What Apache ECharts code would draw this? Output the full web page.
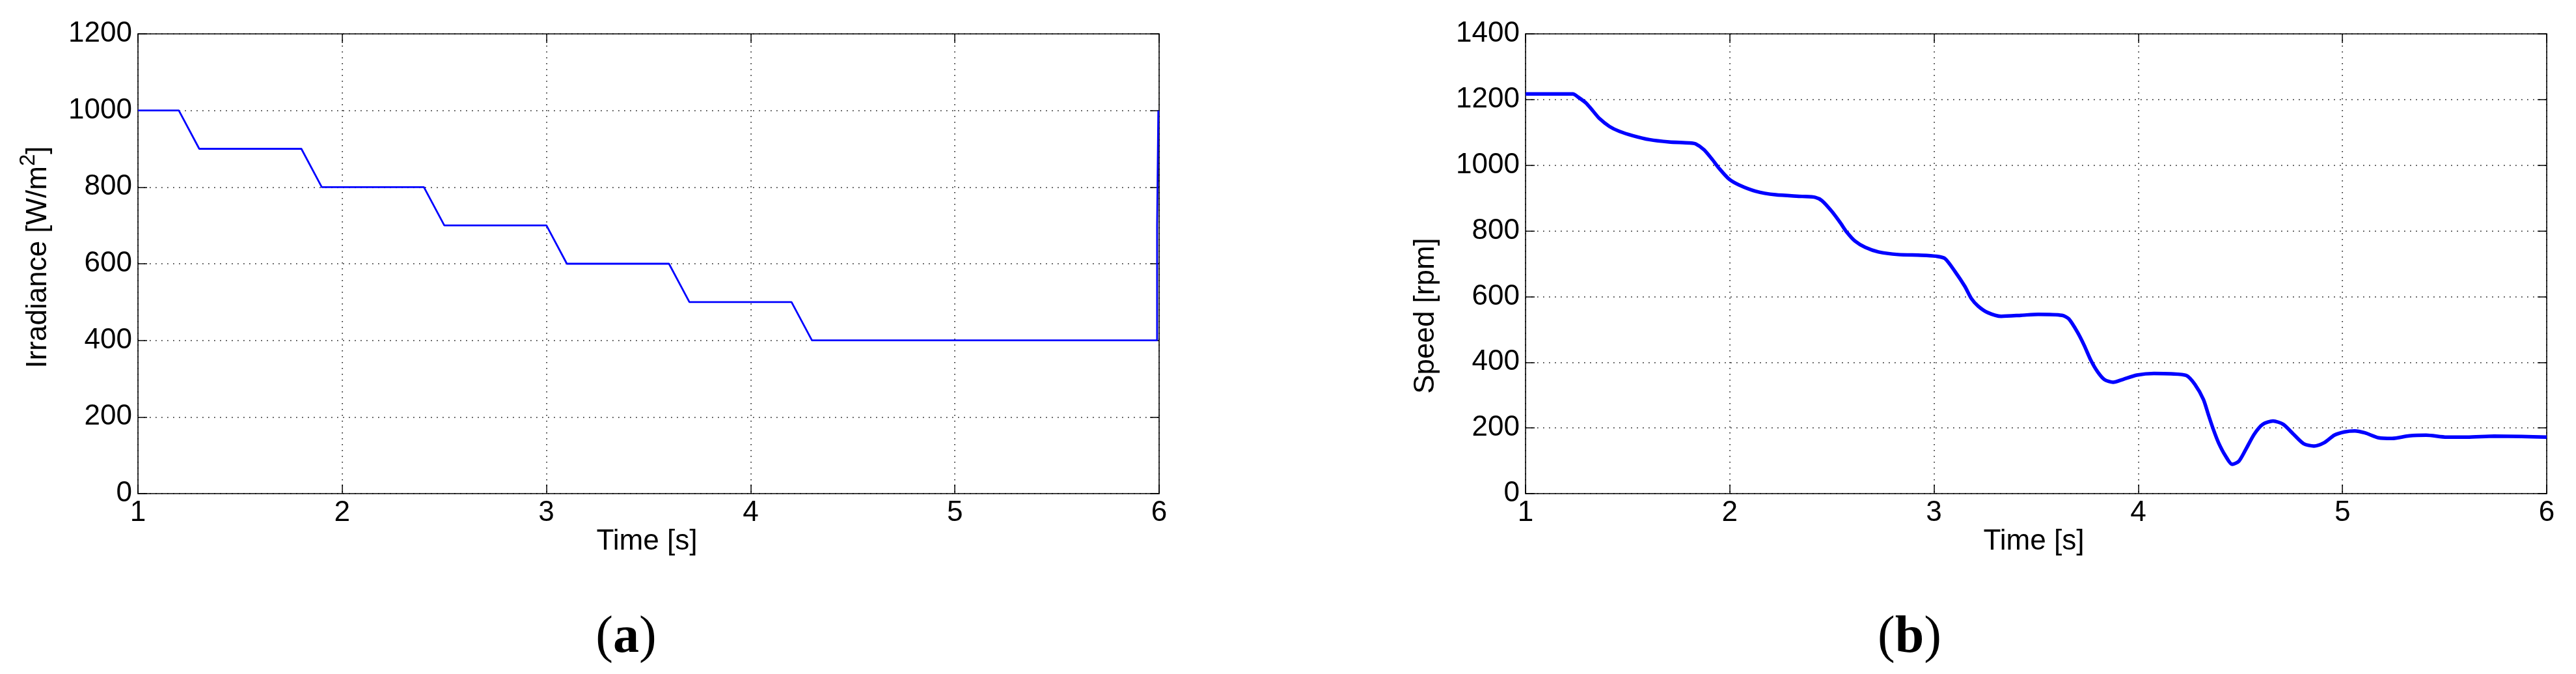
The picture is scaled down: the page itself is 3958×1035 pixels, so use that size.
<!DOCTYPE html>
<html><head><meta charset="utf-8">
<script src="https://cdn.jsdelivr.net/npm/echarts@6/dist/echarts.min.js"></script>
<style>html,body{margin:0;padding:0;background:#fff}#c{width:3958px;height:1035px}</style>
</head><body><div id="c"></div>
<script>
// ---- data ----
const irrTime  = [1, 1.2, 1.3, 1.8, 1.9, 2.4, 2.5, 3.0, 3.1, 3.6, 3.7, 4.2, 4.3, 5.99, 5.99, 5.996, 5.996];
const irrValue = [1000, 1000, 900, 900, 800, 800, 700, 700, 600, 600, 500, 500, 400, 400, 700, 700, 1000];

const speedTime  = [1.0, 1.232, 1.256, 1.297, 1.329, 1.362, 1.411, 1.46, 1.525, 1.606, 1.703, 1.801, 1.833,
  1.874, 1.915, 1.947, 1.996, 2.045, 2.126, 2.224, 2.354, 2.419, 2.451, 2.5, 2.541, 2.573, 2.613, 2.663,
  2.728, 2.825, 2.938, 3.01, 3.053, 3.102, 3.151, 3.183, 3.216, 3.264, 3.329, 3.427, 3.51, 3.627, 3.66,
  3.702, 3.735, 3.768, 3.802, 3.835, 3.877, 3.926, 3.993, 4.077, 4.16, 4.235, 4.277, 4.319, 4.343, 4.368,
  4.393, 4.427, 4.46, 4.493, 4.527, 4.568, 4.61, 4.66, 4.71, 4.76, 4.81, 4.86, 4.91, 4.96, 5.01, 5.06,
  5.11, 5.177, 5.243, 5.327, 5.41, 5.51, 5.61, 5.743, 5.877, 6.0];
const speedValue = [1217, 1217, 1208, 1189, 1166, 1142, 1118, 1103, 1090, 1078, 1071, 1068, 1065,
  1047, 1017, 991, 958, 940, 921, 910, 905, 902, 892, 859, 825, 796, 769, 750,
  736, 728, 726, 723, 716, 677, 631, 594, 571, 551, 540, 543, 546, 543, 532,
  492, 452, 406, 370, 347, 339, 348, 361, 366, 365, 360, 333, 287, 241, 195,
  155, 115, 89, 99, 135, 181, 211, 221, 211, 181, 152, 145, 155, 178, 188, 191,
  185, 170, 168, 176, 178, 172, 172, 175, 174, 172];

const xTicks = [1, 2, 3, 4, 5, 6];
const irrTicks = [0, 200, 400, 600, 800, 1000, 1200];
const speedTicks = [0, 200, 400, 600, 800, 1000, 1200, 1400];

// ---- chart ----
const FONT = "'Liberation Sans', Arial, sans-serif";
const SERIF = "'Liberation Serif', 'Times New Roman', serif";
const black = '#000';
const grids = [
  {left: 212, top: 52, width: 1569, height: 706},
  {left: 2344, top: 52, width: 1569, height: 706}
];
const plain = v => String(v);
function xAxes(gi) {
  const base = {
    gridIndex: gi, type: 'value', min: xTicks[0], max: xTicks[xTicks.length - 1], interval: xTicks[1] - xTicks[0],
    axisLine: {show: true, onZero: false, lineStyle: {color: black, width: 1.6}},
    axisTick: {show: true, inside: true, length: 14, lineStyle: {color: black, width: 1.5}}
  };
  return [
    Object.assign({}, base, {position: 'bottom',
      axisLabel: {color: black, fontSize: 44, fontFamily: FONT, margin: 8, formatter: plain},
      splitLine: {show: true, lineStyle: {color: '#111', width: 1.6, type: [1.6, 7.4]}}}),
    Object.assign({}, base, {position: 'top', axisLabel: {show: false}, splitLine: {show: false}})
  ];
}
function yAxes(gi, ticks) {
  const base = {
    gridIndex: gi, type: 'value', min: ticks[0], max: ticks[ticks.length - 1], interval: ticks[1] - ticks[0],
    axisLine: {show: true, onZero: false, lineStyle: {color: black, width: 1.6}},
    axisTick: {show: true, inside: true, length: 14, lineStyle: {color: black, width: 1.5}}
  };
  return [
    Object.assign({}, base, {position: 'left',
      axisLabel: {color: black, fontSize: 44, fontFamily: FONT, margin: 9, formatter: plain},
      splitLine: {show: true, lineStyle: {color: '#111', width: 1.6, type: [1.6, 7.4]}}}),
    Object.assign({}, base, {position: 'right', axisLabel: {show: false}, splitLine: {show: false}})
  ];
}

const irrData = irrTime.map((t, i) => [t, irrValue[i]]);
const speedData = speedTime.map((t, i) => [t, speedValue[i]]);

const chart = echarts.init(document.getElementById('c'), null, {renderer: 'canvas'});
chart.setOption({
  animation: false,
  backgroundColor: '#fff',
  grid: grids,
  xAxis: [...xAxes(0), ...xAxes(1)],
  yAxis: [...yAxes(0, irrTicks), ...yAxes(1, speedTicks)],
  series: [
    {type: 'line', xAxisIndex: 0, yAxisIndex: 0, data: irrData, showSymbol: false, symbol: 'none',
      lineStyle: {color: '#0000ff', width: 2.8}},
    {type: 'line', xAxisIndex: 2, yAxisIndex: 2, data: speedData, showSymbol: false, symbol: 'none',
      smooth: 0.25, lineStyle: {color: '#0000ff', width: 5.5}}
  ],
  graphic: [
    {type: 'text', x: 59, y: 395, rotation: Math.PI / 2,
      style: {text: 'Irradiance [W/m{s|2}]', fontSize: 44, fontFamily: FONT, fill: black,
        textAlign: 'center', textVerticalAlign: 'middle',
        rich: {s: {fontSize: 33, fontFamily: FONT, fill: black, padding: [0, 0, 30, 0]}}}},
    {type: 'text', x: 2191, y: 485, rotation: Math.PI / 2,
      style: {text: 'Speed [rpm]', fontSize: 44, fontFamily: FONT, fill: black,
        textAlign: 'center', textVerticalAlign: 'middle'}},
    {type: 'text', x: 994, y: 832,
      style: {text: 'Time [s]', fontSize: 44, fontFamily: FONT, fill: black,
        textAlign: 'center', textVerticalAlign: 'middle'}},
    {type: 'text', x: 3125, y: 832,
      style: {text: 'Time [s]', fontSize: 44, fontFamily: FONT, fill: black,
        textAlign: 'center', textVerticalAlign: 'middle'}},
    {type: 'text', x: 962, y: 980,
      style: {text: '({b|a})', fontSize: 80, fontFamily: SERIF, fill: black,
        textAlign: 'center', textVerticalAlign: 'middle',
        rich: {b: {fontSize: 80, fontWeight: 'bold', fontFamily: SERIF, fill: black}}}},
    {type: 'text', x: 2934, y: 980,
      style: {text: '({b|b})', fontSize: 80, fontFamily: SERIF, fill: black,
        textAlign: 'center', textVerticalAlign: 'middle',
        rich: {b: {fontSize: 80, fontWeight: 'bold', fontFamily: SERIF, fill: black}}}}
  ]
});
</script></body></html>
